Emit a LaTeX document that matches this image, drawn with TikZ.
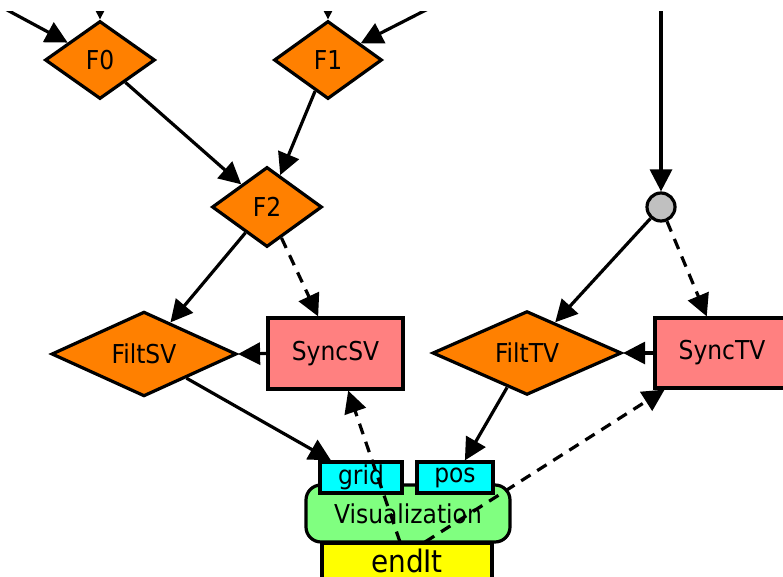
\documentclass[tikz,border=0pt]{standalone}
\usepackage{fontspec}
\setmainfont{DejaVu Sans Condensed}
\usetikzlibrary{shapes.geometric,arrows.meta}
\definecolor{orng}{HTML}{FF8000}
\definecolor{pnk}{HTML}{FF8080}
\definecolor{cyn}{HTML}{00FFFF}
\definecolor{grn}{HTML}{80FF80}
\definecolor{ylw}{HTML}{FFFF00}
\definecolor{gry}{HTML}{C0C0C0}
\tikzset{
  lbl/.style={font=\fontsize{26}{28}\selectfont},
  dia/.style={diamond, draw, line width=3.2pt, fill=orng, inner sep=0pt, lbl},
  box/.style={rectangle, draw, line width=3.2pt, fill=pnk, inner sep=0pt, lbl},
  port/.style={rectangle, draw, line width=3.2pt, fill=cyn, inner sep=0pt, lbl},
  arr/.style={line width=3.2pt, -{Triangle[length=22pt,width=22pt]}},
  darr/.style={arr, dash pattern=on 11pt off 8pt},
}
\begin{document}
\begin{tikzpicture}[x=1pt,y=-1pt]
\useasboundingbox (0,0) rectangle (783,577);
\clip (0,12) rectangle (783,577);
% nodes
\node[dia, minimum width=110pt, minimum height=78pt] (F0) at (100,60) {F0};
\node[dia, minimum width=108pt, minimum height=78pt] (F1) at (328,60) {F1};
\node[dia, minimum width=110pt, minimum height=80pt] (F2) at (267,207) {F2};
\node[dia, minimum width=185pt, minimum height=77pt] (FiltSV) at (144,354) {FiltSV};
\node[box, minimum width=135pt, minimum height=71pt] (SyncSV) at (335.5,353.5) {SyncSV};
\node[dia, minimum width=189pt, minimum height=75pt] (FiltTV) at (527,353) {FiltTV};
\node[box, minimum width=134pt, minimum height=70pt] (SyncTV) at (722,353) {SyncTV};
\node[circle, draw, line width=3.2pt, fill=gry, minimum size=28pt, inner sep=0pt] (J) at (661,207) {};
\node[rectangle, draw, line width=3.2pt, fill=grn, rounded corners=15pt, minimum width=204pt, minimum height=57pt, inner sep=0pt, font=\fontsize{26}{28}\selectfont] (vis) at (408,513.5) {Visualization};
\node[port, minimum width=82pt, minimum height=31pt] (grid) at (361,477.5) {grid};
\node[port, minimum width=76pt, minimum height=31pt] (pos) at (455,477.5) {pos};
\node[rectangle, draw, line width=3.2pt, fill=ylw, minimum width=170pt, minimum height=36pt, inner sep=0pt, font=\fontsize{31}{34}\selectfont] (endIt) at (407,561) {endIt};
% free ends
\coordinate (t0) at (100,-20);
\coordinate (l0) at (-30,-10);
\coordinate (t1) at (328,-20);
\coordinate (r1) at (471,-13);
\coordinate (tj) at (661,-20);
\coordinate (g1) at (400,542);
\coordinate (p1) at (425,542);
% edges
\draw[arr] (t0) -- (F0);
\draw[arr] (l0) -- (F0);
\draw[arr] (t1) -- (F1);
\draw[arr] (r1) -- (F1);
\draw[arr] (tj) -- (J);
\draw[arr] (F0) -- (F2);
\draw[arr] (F1) -- (F2);
\draw[arr] (F2) -- (FiltSV);
\draw[darr] (F2) -- (SyncSV);
\draw[arr] (SyncSV.west) -- (FiltSV.east);
\draw[arr] (J) -- (FiltTV);
\draw[darr] (J) -- (SyncTV);
\draw[arr] (SyncTV.west) -- (FiltTV.east);
\draw[arr] (FiltSV) -- (grid);
\draw[arr] (FiltTV) -- (pos);
\draw[darr] (g1) -- (SyncSV);
\draw[darr] (p1) -- (SyncTV);
\end{tikzpicture}
\end{document}
